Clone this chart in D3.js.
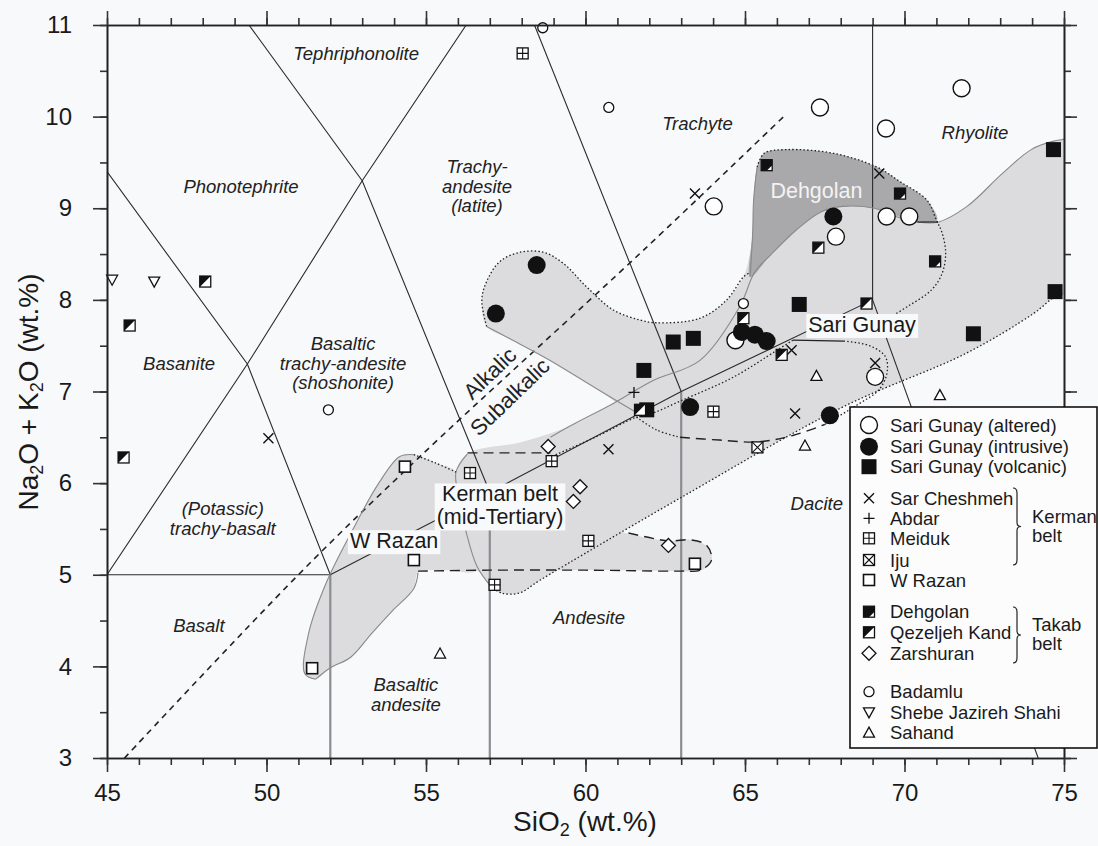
<!DOCTYPE html>
<html>
<head>
<meta charset="utf-8">
<script src="https://cdn.jsdelivr.net/npm/d3@7"></script>
<style>
body{margin:0;background:#f8f9fb;}
svg{display:block;font-family:"Liberation Sans",Arial,Helvetica,sans-serif;}
</style>
</head>
<body>
<svg id="tas"></svg>
<script>
//tick values
var xMajor = [45,50,55,60,65,70,75];
var xMinor = d3.range(45,76,1);
var yMajor = d3.range(3,12,1);
var yMinor = d3.range(3,11.01,0.5);

//sample groups, [SiO2, Na2O+K2O]
var sariAltered = [[67.35,10.10],[71.79,10.31],[69.42,9.87],[64.02,9.02],[69.44,8.91],[70.15,8.91],[67.85,8.69],[64.7,7.56],[69.08,7.16]];
var sariIntrusive = [[58.47,8.38],[57.19,7.85],[67.77,8.91],[64.9,7.65],[65.31,7.62],[65.68,7.55],[63.28,6.83],[67.66,6.74]];
var sariVolcanic = [[74.67,9.64],[74.72,8.09],[66.7,7.95],[72.16,7.63],[62.75,7.54],[63.38,7.58],[61.83,7.23],[61.92,6.80]];
var sarCheshmeh = [[50.06,6.49],[60.72,6.37],[63.43,9.16],[69.21,9.38],[66.46,7.45],[69.08,7.31],[66.57,6.76]];
var abdar = [[61.52,6.99]];
var meiduk = [[58.03,10.69],[56.38,6.11],[57.15,4.89],[58.94,6.24],[64.01,6.78],[60.09,5.37]];
var iju = [[65.39,6.39]];
var wRazan = [[54.34,6.18],[54.62,5.16],[51.43,3.98],[63.43,5.12]];
var dehgolan = [[65.68,9.47],[69.86,9.16],[70.96,8.42]];
var qezeljeh = [[48.08,8.20],[45.71,7.72],[45.52,6.28],[67.3,8.57],[68.81,7.96],[64.95,7.80],[66.15,7.4],[61.71,6.80]];
var zarshuran = [[58.83,6.40],[59.83,5.96],[59.62,5.80],[62.6,5.32]];
var badamlu = [[58.66,10.97],[60.73,10.10],[51.94,6.80],[64.95,7.96]];
var shebe = [[45.16,8.22],[46.48,8.20]];
var sahand = [[67.24,7.17],[66.88,6.41],[71.11,6.96],[55.44,4.14]];

//TAS field boundaries
var tasThin = [
    [[45,5],[52,5]],
    [[52,5],[57,5.9],[63,7],[69,8]],
    [[45,5],[49.4,7.3],[53,9.3],[56.26,11]],
    [[45,9.4],[49.4,7.3],[52,5]],
    [[49.45,11],[53,9.3],[57,5.9]],
    [[58.4,11],[63,7]],
    [[69,8],[74.19,3]],
    [[69,8],[69,11]]
];
var tasGray = [[[52,3],[52,5]],[[57,3],[57,5.9]],[[63,3],[63,7]]];
var alkalineLine = [[45.55,3],[51.0,5.0],[54.75,6.27],[61.81,8.54],[66.27,10.02]];

//shaded fields
var kermanBand = [[55.94,6.12],[56.3,6.32],[58.0,6.45],[59.5,6.62],[60.87,6.87],[62.12,7.12],[63.59,7.34],[64.84,7.93],[65.3,8.3],[65.83,8.5],[66.6,8.76],[67.38,8.96],[68.06,9.02],[69.06,9.0],[69.73,8.91],[70.4,8.85],[71.07,8.85],[71.96,9.02],[73.07,9.38],[73.97,9.64],[74.64,9.73],[75.4,9.76],[75.4,8.1],[74.75,8.04],[74.04,7.85],[71.95,7.42],[68.06,6.83],[63.03,5.85],[58.57,4.94],[57.92,4.8],[57.37,4.8],[57.04,4.87],[56.6,5.09],[56.27,5.45],[56.05,5.81]];
var wRazanField = [[51.2,3.92],[51.32,4.36],[51.87,4.91],[52.64,5.45],[53.52,6.0],[54.18,6.29],[54.62,6.31],[55.3,6.22],[55.94,6.12],[56.2,5.6],[56.6,5.05],[55.6,5.05],[54.75,5.02],[54.62,4.85],[53.96,4.61],[53.3,4.36],[52.64,4.1],[51.98,3.98],[51.54,3.86]];
var tongueField = [[56.6,5.05],[59.0,5.05],[61.0,5.05],[63.0,5.04],[63.55,5.04],[63.95,5.14],[63.85,5.3],[63.3,5.38],[62.6,5.37],[61.3,5.45],[60.3,5.55],[58.5,5.5]];
var lobeField = [[56.9,7.71],[56.75,8.0],[56.9,8.2],[57.32,8.42],[57.95,8.52],[58.68,8.52],[59.3,8.4],[60.04,8.14],[60.87,7.89],[61.71,7.78],[62.23,7.75],[63.59,7.8],[64.43,8.0],[64.95,8.25],[65.2,8.6],[65.3,9.1],[65.45,9.45],[65.7,9.6],[66.3,9.64],[67.77,9.6],[69.13,9.45],[69.86,9.29],[70.7,9.09],[71.0,8.87],[71.18,8.73],[71.29,8.51],[71.18,8.29],[70.85,8.11],[70.06,7.92],[69.4,7.78],[68.5,7.62],[66.5,7.45],[64.6,7.15],[63.0,6.9],[61.7,6.75],[60.35,7.03],[58.78,7.36],[57.6,7.58]];
var dehgolanField = [[65.16,8.25],[65.24,8.73],[65.27,9.09],[65.38,9.45],[65.6,9.6],[66.3,9.64],[67.77,9.6],[69.13,9.45],[69.86,9.29],[70.7,9.09],[71.02,8.87],[70.4,8.86],[69.73,8.92],[69.06,9.0],[68.06,9.02],[67.38,8.96],[66.6,8.76],[65.83,8.5]];

//field outlines
var grayEdges = [
    [[51.54,3.86],[51.2,3.92],[51.32,4.36],[51.87,4.91],[52.64,5.45],[53.52,6.0],[54.18,6.29],[54.62,6.31]],
    [[51.54,3.86],[51.98,3.98],[52.64,4.1],[53.3,4.36],[53.96,4.61],[54.62,4.85],[54.75,5.02]],
    [[57.04,4.87],[56.6,5.09],[56.27,5.45],[56.05,5.81],[55.94,6.12],[56.3,6.32]],
    [[58.9,6.5],[59.5,6.62],[60.87,6.87],[62.12,7.12],[63.59,7.34],[64.84,7.93],[65.3,8.3],[65.83,8.5],[66.6,8.76],[67.38,8.96],[68.06,9.02],[69.06,9.0],[69.73,8.91],[70.4,8.85],[71.07,8.85],[71.96,9.02],[73.07,9.38],[73.97,9.64],[74.64,9.73],[75.4,9.76]],
    [[56.9,7.71],[57.6,7.58],[58.78,7.36],[60.35,7.03],[61.7,6.75]],
    [[65.16,8.25],[65.24,8.73],[65.27,9.09],[65.38,9.45]]
];
var dottedEdges = [
    [[75.4,8.1],[74.75,8.04],[74.04,7.85],[71.95,7.42],[68.06,6.83],[63.03,5.85],[58.57,4.94],[57.92,4.8],[57.37,4.8],[57.04,4.87]],
    [[54.62,6.31],[55.3,6.22],[55.94,6.12]],
    [[56.9,7.71],[56.75,8.0],[56.9,8.2],[57.32,8.42],[57.95,8.52],[58.68,8.52],[59.3,8.4],[60.04,8.14],[60.87,7.89],[61.71,7.78],[62.23,7.75],[63.59,7.8],[64.43,8.0],[64.95,8.25],[65.16,8.3]],
    [[65.38,9.45],[65.6,9.6],[66.3,9.64],[67.77,9.6],[69.13,9.45],[69.86,9.29],[70.7,9.09],[71.0,8.87],[71.18,8.73],[71.29,8.51],[71.18,8.29],[70.85,8.11],[70.06,7.92],[69.4,7.78],[68.9,7.68]],
    [[61.6,6.72],[62.23,6.58],[62.96,6.5]],
    [[67.5,6.64],[68.5,6.85],[69.2,7.02],[69.45,7.2],[69.4,7.38],[68.9,7.5],[68.1,7.55]],
    [[66.5,7.56],[66.0,7.45],[64.6,7.15],[63.0,6.9],[62.0,6.75],[61.6,6.72],[60.3,6.5],[59.0,6.3]]
];
var dashedEdges = [
    [[54.75,5.04],[57,5.05],[60,5.05],[63,5.04],[63.6,5.05],[63.95,5.16],[63.8,5.32],[63.3,5.38],[62.6,5.37],[61.3,5.46]],
    [[56.3,6.33],[58.9,6.33]],
    [[62.96,6.5],[64.2,6.47],[65.4,6.45],[66.5,6.52],[67.5,6.64]]
];
var solidEdges = [
    [[68.1,7.55],[66.5,7.56]],
    [[70.4,8.85],[71.05,8.85]]
];

//field names written in the diagram
var regionText = [["Tephriphonolite"],["Phonotephrite"],["Trachy-","andesite","(latite)"],["Basanite"],["Basaltic","trachy-andesite","(shoshonite)"],["Trachyte"],["Rhyolite"],["(Potassic)","trachy-basalt"],["Basalt"],["Basaltic","andesite"],["Andesite"],["Dacite"]];
var regionAt = [[52.81,10.62],[49.2,9.17],[56.6,9.38],[47.26,7.23],[52.4,7.45],[63.51,9.85],[72.21,9.76],[48.63,5.65],[47.88,4.38],[54.37,3.73],[60.11,4.46],[67.25,5.71]];

var groupText = [["W Razan"],["Kerman belt","(mid-Tertiary)"],["Sari Gunay"]];
var groupAt = [[54.0,5.29],[57.32,5.80],[68.67,7.65]];

var legendNames = ["Sari Gunay (altered)","Sari Gunay (intrusive)","Sari Gunay (volcanic)","Sar Cheshmeh","Abdar","Meiduk","Iju","W Razan","Dehgolan","Qezeljeh Kand","Zarshuran","Badamlu","Shebe Jazireh Shahi","Sahand"];
var legendKeys = ["altered","intrusive","volcanic","sar","abdar","meiduk","iju","wrazan","dehgolan","qezeljeh","zarshuran","badamlu","shebe","sahand"];

//the size of the page and the plot box
var screen = {width:1098, height:846};
var plot = {left:107, right:1064, top:25, bottom:758};

var xScale = d3.scaleLinear().domain([45,75]).range([plot.left,plot.right]);
var yScale = d3.scaleLinear().domain([3,11]).range([plot.bottom,plot.top]);

var svg = d3.select("#tas")
    .attr("width",screen.width)
    .attr("height",screen.height);

svg.append("rect")
    .attr("width",screen.width)
    .attr("height",screen.height)
    .attr("fill","#f8f9fb");

svg.append("defs").append("clipPath").attr("id","plotClip")
    .append("rect")
    .attr("x",plot.left).attr("y",plot.top)
    .attr("width",plot.right-plot.left)
    .attr("height",plot.bottom-plot.top);

var smoothClosed = d3.line()
    .x(function(d){return xScale(d[0]);})
    .y(function(d){return yScale(d[1]);})
    .curve(d3.curveCatmullRomClosed.alpha(0.5));
var smoothOpen = d3.line()
    .x(function(d){return xScale(d[0]);})
    .y(function(d){return yScale(d[1]);})
    .curve(d3.curveCatmullRom.alpha(0.5));
var straight = d3.line()
    .x(function(d){return xScale(d[0]);})
    .y(function(d){return yScale(d[1]);});

var fields = svg.append("g").attr("clip-path","url(#plotClip)");

//light grey fields
[kermanBand,wRazanField,tongueField,lobeField].forEach(function(ring)
{
    fields.append("path")
        .attr("d",smoothClosed(ring))
        .attr("fill","#dcdcde");
});
fields.append("path")
    .attr("d",smoothClosed(dehgolanField))
    .attr("fill","#a9a9ab");

//classification lines
fields.selectAll(".tasGray").data(tasGray).enter().append("path")
    .attr("d",straight)
    .attr("fill","none").attr("stroke","#8b8d90").attr("stroke-width",2.2);
fields.selectAll(".tasThin").data(tasThin).enter().append("path")
    .attr("d",straight)
    .attr("fill","none").attr("stroke","#2b2b2b").attr("stroke-width",1.1);
fields.append("path")
    .attr("d",smoothOpen(alkalineLine))
    .attr("fill","none").attr("stroke","#222").attr("stroke-width",1.6)
    .attr("stroke-dasharray","6,5");

//outlines of the fields
fields.selectAll(".grayEdge").data(grayEdges).enter().append("path")
    .attr("d",smoothOpen)
    .attr("fill","none").attr("stroke","#8a8a8a").attr("stroke-width",1.1);
fields.selectAll(".dotEdge").data(dottedEdges).enter().append("path")
    .attr("d",smoothOpen)
    .attr("fill","none").attr("stroke","#222").attr("stroke-width",1.3)
    .attr("stroke-dasharray","1.5,2.2");
fields.selectAll(".dashEdge").data(dashedEdges).enter().append("path")
    .attr("d",smoothOpen)
    .attr("fill","none").attr("stroke","#222").attr("stroke-width",1.4)
    .attr("stroke-dasharray","10,6");
fields.selectAll(".solidEdge").data(solidEdges).enter().append("path")
    .attr("d",straight)
    .attr("fill","none").attr("stroke","#222").attr("stroke-width",1.2);

//italic field names
var regions = svg.append("g")
    .attr("font-style","italic")
    .attr("font-size",18.5)
    .attr("fill","#222")
    .attr("text-anchor","middle");
regionText.forEach(function(lines,i)
{
    var t = regions.append("text")
        .attr("x",xScale(regionAt[i][0]))
        .attr("y",yScale(regionAt[i][1]));
    lines.forEach(function(line,j)
    {
        t.append("tspan")
            .attr("x",xScale(regionAt[i][0]))
            .attr("dy",j==0?0:19.5)
            .text(line);
    });
});

//alkalic / subalkalic
svg.append("text")
    .attr("transform","translate("+xScale(57.0)+","+yScale(7.2)+") rotate(-44)")
    .attr("text-anchor","middle").attr("dominant-baseline","central")
    .attr("font-size",22).attr("fill","#222")
    .text("Alkalic");
svg.append("text")
    .attr("transform","translate("+xScale(57.63)+","+yScale(6.94)+") rotate(-44)")
    .attr("text-anchor","middle").attr("dominant-baseline","central")
    .attr("font-size",22).attr("fill","#222")
    .text("Subalkalic");

//group labels with a box behind them
var groups = svg.append("g");
groupText.forEach(function(lines,i)
{
    var g = groups.append("g");
    var t = g.append("text")
        .attr("font-size",21.5)
        .attr("fill","#1a1a1a")
        .attr("text-anchor","middle");
    lines.forEach(function(line,j)
    {
        t.append("tspan")
            .attr("x",xScale(groupAt[i][0]))
            .attr("y",yScale(groupAt[i][1])+j*23)
            .text(line);
    });
    var box = t.node().getBBox();
    g.insert("rect","text")
        .attr("x",box.x-2).attr("y",box.y+1)
        .attr("width",box.width+4).attr("height",box.height)
        .attr("fill","#f8f9fb");
});
svg.append("text")
    .attr("x",xScale(67.24)).attr("y",yScale(9.11))
    .attr("text-anchor","middle")
    .attr("font-size",21.5)
    .attr("fill","#f3f3f3")
    .text("Dehgolan");

//symbols
var drawSymbol = function(g,key,cx,cy)
{
    var s = g.append("g").attr("transform","translate("+cx+","+cy+")");
    var ink = "#111";
    if(key=="altered")
    {
        s.append("circle").attr("r",8.5).attr("fill","#fff").attr("stroke",ink).attr("stroke-width",1.4);
    }
    else if(key=="intrusive")
    {
        s.append("circle").attr("r",9).attr("fill",ink);
    }
    else if(key=="volcanic")
    {
        s.append("rect").attr("x",-7.5).attr("y",-7.5).attr("width",15).attr("height",15).attr("fill",ink);
    }
    else if(key=="sar")
    {
        s.append("path").attr("d","M-5,-5L5,5M-5,5L5,-5").attr("stroke",ink).attr("stroke-width",1.4);
    }
    else if(key=="abdar")
    {
        s.append("path").attr("d","M-5.5,0H5.5M0,-5.5V5.5").attr("stroke",ink).attr("stroke-width",1.3);
    }
    else if(key=="badamlu")
    {
        s.append("circle").attr("r",5).attr("fill","#fff").attr("stroke",ink).attr("stroke-width",1.3);
    }
    else if(key=="shebe")
    {
        s.append("path").attr("d","M-5.5,-4.5H5.5L0,5.5Z").attr("fill","#fff").attr("stroke",ink).attr("stroke-width",1.3);
    }
    else if(key=="sahand")
    {
        s.append("path").attr("d","M-5.5,4.5H5.5L0,-5.5Z").attr("fill","#fff").attr("stroke",ink).attr("stroke-width",1.3);
    }
    else if(key=="zarshuran")
    {
        s.append("path").attr("d","M0,-7L7,0L0,7L-7,0Z").attr("fill","#fff").attr("stroke",ink).attr("stroke-width",1.3);
    }
    else
    {
        s.append("rect").attr("x",-5.5).attr("y",-5.5).attr("width",11).attr("height",11)
            .attr("fill","#fff").attr("stroke",ink).attr("stroke-width",key=="wrazan"?1.6:1.3);
        if(key=="meiduk")
            s.append("path").attr("d","M-5.5,0H5.5M0,-5.5V5.5").attr("stroke",ink).attr("stroke-width",1.1);
        if(key=="iju")
            s.append("path").attr("d","M-5.5,-5.5L5.5,5.5M-5.5,5.5L5.5,-5.5").attr("stroke",ink).attr("stroke-width",1.1);
        if(key=="dehgolan")
            s.append("path").attr("d","M-5.5,-5.5H5.5V0L0,5.5H-5.5Z").attr("fill",ink);
        if(key=="qezeljeh")
            s.append("path").attr("d","M-5.5,-5.5H5.5L-5.5,5.5Z").attr("fill",ink);
    }
};

var samples = [
    ["altered",sariAltered],["volcanic",sariVolcanic],["intrusive",sariIntrusive],
    ["sar",sarCheshmeh],["abdar",abdar],["meiduk",meiduk],["iju",iju],["wrazan",wRazan],
    ["dehgolan",dehgolan],["qezeljeh",qezeljeh],["zarshuran",zarshuran],
    ["badamlu",badamlu],["shebe",shebe],["sahand",sahand]
];
var points = svg.append("g");
samples.forEach(function(pair)
{
    pair[1].forEach(function(d)
    {
        drawSymbol(points,pair[0],xScale(d[0]),yScale(d[1]));
    });
});

//axes
var styleAxis = function(g)
{
    g.select(".domain").attr("stroke","#222").attr("stroke-width",1.6);
    g.selectAll(".tick line").attr("stroke","#333").attr("stroke-width",1.6);
    g.selectAll(".tick text").attr("fill","#1a1a1a");
    g.attr("font-size",24).attr("font-family","'Liberation Sans',Arial,Helvetica,sans-serif");
};
svg.append("g").attr("transform","translate(0,"+plot.bottom+")")
    .call(d3.axisBottom(xScale).tickValues(xMinor).tickSize(7).tickFormat("").tickSizeOuter(0)).call(styleAxis);
svg.append("g").attr("transform","translate(0,"+plot.bottom+")")
    .call(d3.axisBottom(xScale).tickValues(xMajor).tickSize(14).tickPadding(12).tickSizeOuter(0)).call(styleAxis);
svg.append("g").attr("transform","translate(0,"+plot.top+")")
    .call(d3.axisTop(xScale).tickValues(xMinor).tickSize(7).tickFormat("").tickSizeOuter(0)).call(styleAxis);
svg.append("g").attr("transform","translate(0,"+plot.top+")")
    .call(d3.axisTop(xScale).tickValues(xMajor).tickSize(14).tickFormat("").tickSizeOuter(0)).call(styleAxis);
svg.append("g").attr("transform","translate("+plot.left+",0)")
    .call(d3.axisLeft(yScale).tickValues(yMinor).tickSize(7).tickFormat("").tickSizeOuter(0)).call(styleAxis);
svg.append("g").attr("transform","translate("+plot.left+",0)")
    .call(d3.axisLeft(yScale).tickValues(yMajor).tickSize(14).tickPadding(21).tickSizeOuter(0)).call(styleAxis);
svg.append("g").attr("transform","translate("+plot.right+",0)")
    .call(d3.axisRight(yScale).tickValues(yMinor).tickSize(7).tickFormat("").tickSizeOuter(0)).call(styleAxis);
svg.append("g").attr("transform","translate("+plot.right+",0)")
    .call(d3.axisRight(yScale).tickValues(yMajor).tickSize(13).tickFormat("").tickSizeOuter(0)).call(styleAxis);

//axis titles
var xTitle = svg.append("text")
    .attr("x",585).attr("y",831)
    .attr("text-anchor","middle").attr("font-size",28).attr("fill","#1a1a1a");
xTitle.append("tspan").text("SiO");
xTitle.append("tspan").attr("font-size",18).attr("dy",5).text("2");
xTitle.append("tspan").attr("dy",-5).text(" (wt.%)");

var yTitle = svg.append("text")
    .attr("transform","translate(38,392) rotate(-90)")
    .attr("text-anchor","middle").attr("font-size",28).attr("fill","#1a1a1a");
yTitle.append("tspan").text("Na");
yTitle.append("tspan").attr("font-size",18).attr("dy",5).text("2");
yTitle.append("tspan").attr("dy",-5).text("O + K");
yTitle.append("tspan").attr("font-size",18).attr("dy",5).text("2");
yTitle.append("tspan").attr("dy",-5).text("O (wt.%)");

//legend
var legendRows = [425,446.7,466.7,498.3,518.3,538.3,560,580,611.7,632.3,653.3,691.7,712.3,732.7];
var legend = svg.append("g");
legend.append("rect")
    .attr("x",850).attr("y",407)
    .attr("width",247).attr("height",341)
    .attr("fill","#fcfcfd").attr("stroke","#111").attr("stroke-width",1.6);
legendKeys.forEach(function(key,i)
{
    drawSymbol(legend,key,869,legendRows[i]);
    legend.append("text")
        .attr("x",890).attr("y",legendRows[i]+6.5)
        .attr("font-size",18.5).attr("fill","#1a1a1a")
        .text(legendNames[i]);
});
var brace = function(x,y0,y1,label)
{
    var m = (y0+y1)/2;
    legend.append("path")
        .attr("d","M"+(x-4)+","+y0+"Q"+x+","+y0+" "+x+","+(y0+5)+"V"+(m-4)+"Q"+x+","+m+" "+(x+4)+","+m
            +"Q"+x+","+m+" "+x+","+(m+4)+"V"+(y1-5)+"Q"+x+","+y1+" "+(x-4)+","+y1)
        .attr("fill","none").attr("stroke","#222").attr("stroke-width",1.2);
    label.forEach(function(line,j)
    {
        legend.append("text")
            .attr("x",x+15).attr("y",m-4+j*19)
            .attr("font-size",18.5).attr("fill","#1a1a1a")
            .text(line);
    });
};
brace(1017,488,565,["Kerman","belt"]);
brace(1017,607,663,["Takab","belt"]);
</script>
</body>
</html>
